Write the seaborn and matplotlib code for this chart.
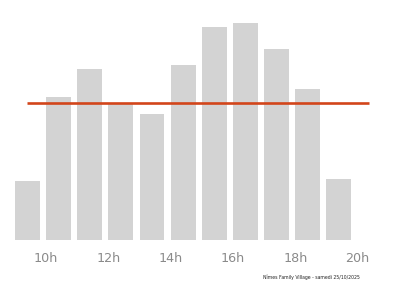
import matplotlib
matplotlib.use("Agg")
import matplotlib.pyplot as plt
import seaborn as sns
import pandas as pd

hours = [9, 10, 11, 12, 13, 14, 15, 16, 17, 18, 19]
visits = [59, 143, 171, 137, 126, 175, 213, 217, 191, 151, 61]
reference_level = 137.5
tick_hours = [10, 12, 14, 16, 18, 20]
tick_labels = ["10h", "12h", "14h", "16h", "18h", "20h"]
footnote = "Nîmes Family Village - samedi 25/10/2025"

sns.set_theme(style="white")
plt.rcParams['font.family'] = ['DejaVu Sans']

df = pd.DataFrame({"center": [h + 0.4 for h in hours], "visits": visits})

fig = plt.figure(figsize=(4.0, 2.86), dpi=100)
ax = fig.add_axes([0, 46 / 286, 1, 230 / 286])

sns.barplot(data=df, x="center", y="visits", native_scale=True, width=0.8,
            color="#d3d3d3", saturation=1, edgecolor="none", ax=ax)

ax.hlines(reference_level, 9.39, 20.36, color="#d2451a", linewidth=1.9, zorder=5)

ax.set_xlim(8.52, 8.52 + 400 / 31.15)
ax.set_ylim(0, 230)
ax.set_xticks(tick_hours)
ax.set_xticklabels(tick_labels)
ax.set_yticks([])
ax.set_xlabel("")
ax.set_ylabel("")
ax.tick_params(axis="x", length=0, pad=8.5, labelsize=9.2, labelcolor="#8a8a8a")
for s in ax.spines.values():
    s.set_visible(False)

fig.text(311.5 / 400, 1 - 277.7 / 286, footnote, ha="center", va="center",
         fontsize=3.3, color="#222222")

fig.savefig("out.png", dpi=100)
